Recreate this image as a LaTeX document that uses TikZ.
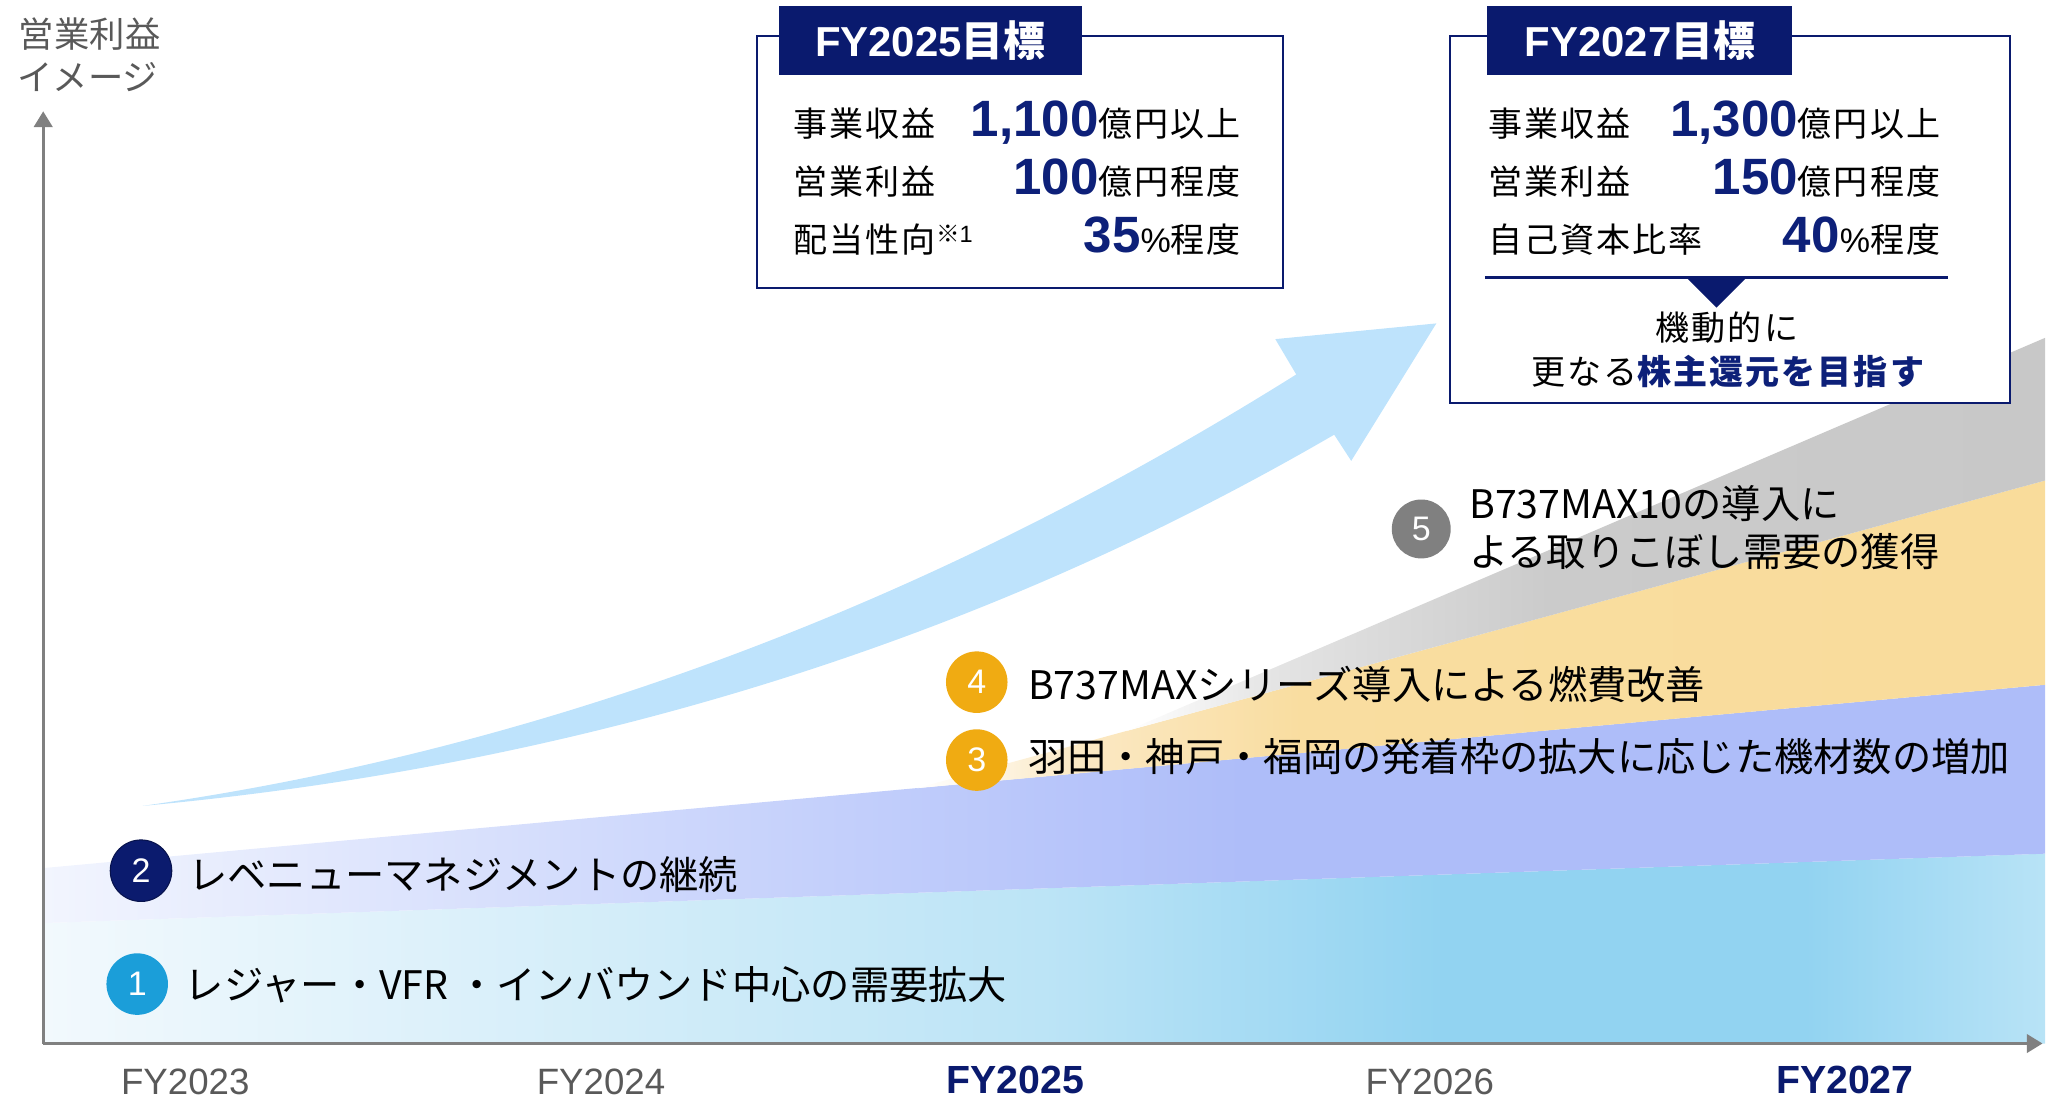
\documentclass[tikz,border=0pt]{standalone}
\usepackage{fontspec}
\setmainfont{Noto Sans CJK JP}
\newfontfamily\lat{Liberation Sans}
\newfontfamily\jpbox{Noto Sans CJK JP}[LetterSpace=6]
\usetikzlibrary{arrows.meta}

\definecolor{navy}{HTML}{0A1A6E}
\definecolor{numnavy}{HTML}{0D2079}
\definecolor{axgray}{HTML}{808080}
\definecolor{txtgray}{HTML}{595959}
\definecolor{arrowblue}{HTML}{BEE3FC}
\definecolor{cone}{HTML}{1B9ED9}
\definecolor{ctwo}{HTML}{0B1B6E}
\definecolor{cthree}{HTML}{F0AB12}
\definecolor{cfive}{HTML}{808080}

\definecolor{baa}{HTML}{F2F9FD}
\definecolor{bab}{HTML}{BCE4F6}
\definecolor{bac}{HTML}{92D3F1}
\definecolor{bad}{HTML}{B8E3F6}
\definecolor{bba}{HTML}{F2F5FE}
\definecolor{bbb}{HTML}{C3CFFB}
\definecolor{bbc}{HTML}{AEBDF9}
\definecolor{bca}{HTML}{FBE9C5}
\definecolor{bcb}{HTML}{F9DDA0}
\definecolor{bcc}{HTML}{F9DC9B}
\definecolor{bda}{HTML}{E4E4E4}
\definecolor{bdb}{HTML}{CBCBCB}
\definecolor{bdc}{HTML}{C8C8C8}

\pgfdeclarehorizontalshading{bandA}{100bp}{color(0bp)=(baa); color(25bp)=(baa); color(50bp)=(bab); color(60bp)=(bac); color(69bp)=(bac); color(75bp)=(bad); color(100bp)=(bad)}
\pgfdeclarehorizontalshading{bandB}{100bp}{color(0bp)=(bba); color(25bp)=(bba); color(45bp)=(bbb); color(55bp)=(bbc); color(75bp)=(bbc); color(100bp)=(bbc)}
\pgfdeclarehorizontalshading{bandC}{100bp}{color(0bp)=(white); color(25bp)=(white); color(32bp)=(bca); color(42bp)=(bcb); color(75bp)=(bcc); color(100bp)=(bcc)}
\pgfdeclarehorizontalshading{bandD}{100bp}{color(0bp)=(white); color(25bp)=(white); color(33bp)=(bda); color(48bp)=(bdb); color(75bp)=(bdc); color(100bp)=(bdc)}

\newcommand\bignum[1]{{\lat\bfseries\fontsize{39}{40}\selectfont\color{numnavy}#1}}

\begin{document}
\begin{tikzpicture}[x=1pt,y=-1pt,
  axisline/.style={draw=axgray, line width=2.3pt, -{Triangle[length=12pt,width=14pt]}},
  numc/.style={circle, minimum size=47pt, inner sep=0pt, text=white, font=\lat\fontsize{26}{26}\selectfont},
  lab/.style={anchor=base west, inner sep=0pt, font=\fontsize{30}{34}\selectfont},
  ylab/.style={anchor=base, inner sep=0pt, text=txtgray, font=\fontsize{27}{30}\selectfont},
  xlab/.style={anchor=base, inner sep=0pt, text=txtgray, font=\lat\fontsize{28}{30}\selectfont},
  xlabb/.style={anchor=base, inner sep=0pt, text=navy, font=\lat\bfseries\fontsize{30}{32}\selectfont},
  frame/.style={draw=navy, line width=1.8pt, fill=white, inner sep=0pt},
  tab/.style={fill=navy, inner sep=0pt, text=white, font=\bfseries\fontsize{32}{34}\selectfont},
  rowl/.style={anchor=base west, inner sep=0pt, font=\jpbox\fontsize{26}{30}\selectfont},
  rowr/.style={anchor=base east, inner sep=0pt, font=\jpbox\fontsize{26}{30}\selectfont},
  rowc/.style={anchor=base, inner sep=0pt, font=\jpbox\fontsize{26}{30}\selectfont}
]
\useasboundingbox (0,0) rectangle (1568,843);

% stacked bands
\shade[shading=bandA] (33,797) -- (33,705) -- (1562,652) -- (1562,797) -- cycle;
\shade[shading=bandB] (33,705) -- (33,663) -- (1562,523) -- (1562,652) -- cycle;
\shade[shading=bandC] (700,602) -- (1562,367) -- (1562,523) -- cycle;
\shade[shading=bandD] (860,558.4) -- (1562,258) -- (1562,367) -- cycle;

% big growth arrow
\fill[arrowblue] (109,615.5) .. controls (500,560) and (800,405) .. (990,286)
  -- (974,259) -- (1097,247) -- (1032,352) -- (1019,332)
  .. controls (850,430) and (550,575) .. (109,615.5) -- cycle;

% axes
\coordinate (O) at (33,797);
\coordinate (Ytip) at (33,85);
\coordinate (Xtip) at (1560,797);
\draw[axisline] (O) -- (Ytip);
\draw[axisline] (O) -- (Xtip);

\node[ylab] (ya) at (68.5,36) {営業利益};
\node[ylab] (yb) at (67,69) {イメージ};

\node[xlab] (x23) at (141.5,836) {FY2023};
\node[xlab] (x24) at (459,836) {FY2024};
\node[xlabb] (x25) at (775.5,835) {FY2025};
\node[xlab] (x26) at (1092,836) {FY2026};
\node[xlabb] (x27) at (1409,835) {FY2027};

% numbered circles and labels
\node[numc, fill=cone] (n1) at (104.8,751.6) {1};
\node[numc, fill=ctwo, draw=ctwo!70!black, line width=0.8pt] (n2) at (107.7,665) {2};
\node[numc, fill=cthree] (n3) at (746,580.5) {3};
\node[numc, fill=cthree] (n4) at (746,521) {4};
\node[numc, fill=cfive, minimum size=45pt] (n5) at (1085.5,404) {5};

\node[lab] (t1) at (141,763) {レジャー・VFR ・インバウンド中心の需要拡大};
\node[lab] (t2) at (143.6,679) {レベニューマネジメントの継続};
\node[lab] (t3) at (785,589) {羽田・神戸・福岡の発着枠の拡大に応じた機材数の増加};
\node[lab] (t4) at (785,534) {B737MAXシリーズ導入による燃費改善};
\node[lab] (t5a) at (1122,396) {B737MAX10の導入に};
\node[lab] (t5b) at (1122,433) {よる取りこぼし需要の獲得};

% FY2025 target box
\node[frame, minimum width=402pt, minimum height=192.5pt] (box25) at (779,123.75) {};
\node[tab, minimum width=231pt, minimum height=52.4pt] (tab25) at (710.5,30.8) {{\lat FY2025}目標};
\node[rowl] (r25a) at (606,104) {事業収益};
\node[rowr] (v25a) at (948,104) {\bignum{1,100}億円以上};
\node[rowl] (r25b) at (606,148.5) {営業利益};
\node[rowr] (v25b) at (948,148.5) {\bignum{100}億円程度};
\node[rowl] (r25c) at (606,193) {配当性向\raisebox{8pt}{\fontsize{18}{18}\selectfont ※{\lat 1}}};
\node[rowr] (v25c) at (948,193) {\bignum{35}{\lat\%}程度};

% FY2027 target box
\node[frame, minimum width=427.5pt, minimum height=280.5pt] (box27) at (1321.25,167.75) {};
\node[tab, minimum width=233pt, minimum height=52.4pt] (tab27) at (1252.5,30.8) {{\lat FY2027}目標};
\node[rowl] (r27a) at (1136.5,104) {事業収益};
\node[rowr] (v27a) at (1482,104) {\bignum{1,300}億円以上};
\node[rowl] (r27b) at (1136.5,148.5) {営業利益};
\node[rowr] (v27b) at (1482,148.5) {\bignum{150}億円程度};
\node[rowl] (r27c) at (1136.5,193) {自己資本比率};
\node[rowr] (v27c) at (1482,193) {\bignum{40}{\lat\%}程度};
\coordinate (sepL) at (1134,212);
\coordinate (sepR) at (1488,212);
\draw[navy, line width=1.8pt] (sepL) -- (sepR);
\fill[navy] (1288,212) -- (1334,212) -- (1311,235) -- cycle;
\node[rowc] (m1) at (1319,260) {機動的に};
\node[rowc] (m2) at (1319.5,293.5) {更なる{\bfseries\color{numnavy}株主還元を目指す}};

\end{tikzpicture}
\end{document}
